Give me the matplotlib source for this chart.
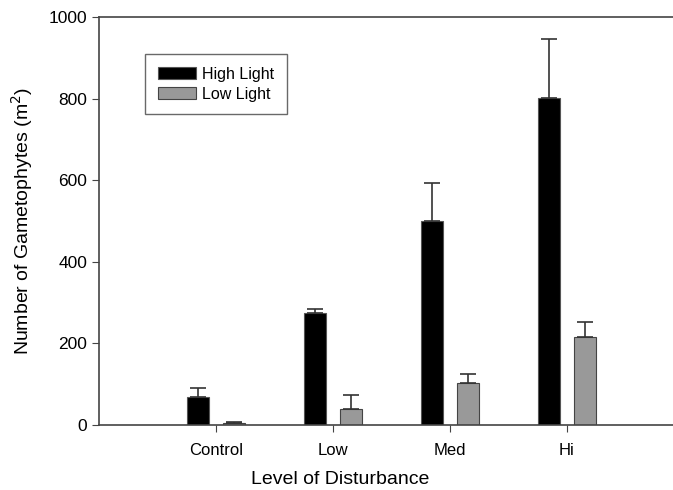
import matplotlib
matplotlib.use('Agg')
import matplotlib.pyplot as plt
import numpy as np

plt.rcParams['font.family'] = ['Liberation Sans', 'DejaVu Sans']

# values
levels = ['Control', 'Low', 'Med', 'Hi']
high_light = [68, 275, 500, 802]
high_light_se = [22, 10, 93, 145]
low_light = [4, 38, 104, 215]
low_light_se = [3, 35, 22, 37]

x = np.arange(1, len(levels) + 1)
w = 0.19
off = 0.155

fig = plt.figure(figsize=(6.73, 4.9), dpi=100)
# right side of the axes runs past the figure edge, like the original
ax = fig.add_axes([99/673, 65/490, (684-99)/673, 408/490])

err_kw = dict(ecolor='#333333', elinewidth=1.2, capsize=6, capthick=1.2)
ax.bar(x - off, high_light, w, color='black', edgecolor='#555555', linewidth=0.8,
       yerr=[np.zeros(4), high_light_se], error_kw=err_kw, label='High Light')
ax.bar(x + off, low_light, w, color='#999999', edgecolor='#444444', linewidth=0.8,
       yerr=[np.zeros(4), low_light_se], error_kw=err_kw, label='Low Light')

ax.set_xlim(0, 5)
ax.set_ylim(0, 1000)
ax.set_xticks(x)
ax.set_xticklabels(levels, fontsize=12)
ax.set_yticks(range(0, 1001, 200))
ax.tick_params(axis='y', labelsize=12.5, length=5, direction='out', color='#444444')
ax.tick_params(axis='x', length=5, direction='out', color='#444444', pad=8)
for s in ax.spines.values():
    s.set_color('#444444')
    s.set_linewidth(1.2)

ax.set_xlabel('Level of Disturbance', fontsize=14)
ax.set_ylabel('Number of Gametophytes (m$^2$)', fontsize=14, labelpad=10)
ax.xaxis.set_label_coords((340-99)/(684-99), -0.112)

leg = ax.legend(loc='upper left', bbox_to_anchor=((145-99)/585, (425-54)/408),
                fontsize=11.5, frameon=True, fancybox=False, borderpad=0.8,
                handlelength=2.4, handleheight=0.75, handletextpad=0.4,
                labelspacing=0.3, borderaxespad=0)
leg.get_frame().set_edgecolor('#444444')
leg.get_frame().set_linewidth(1.0)

fig.savefig('out.png', dpi=100)
